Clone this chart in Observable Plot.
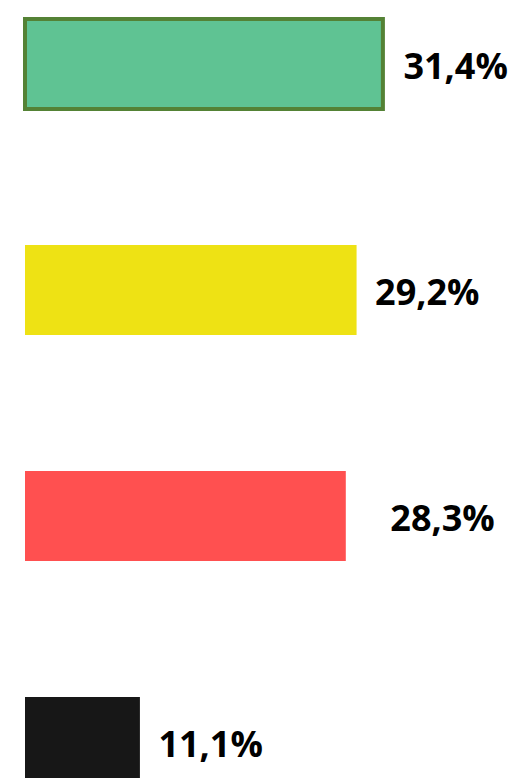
<!DOCTYPE html>
<html>
<head>
<meta charset="utf-8">
<script src="https://cdn.jsdelivr.net/npm/d3@7"></script>
<script src="https://cdn.jsdelivr.net/npm/@observablehq/plot@0.6"></script>
<style>
  html, body { margin: 0; padding: 0; background: #ffffff; overflow: hidden; }
  #chart svg { display: block; }
</style>
</head>
<body>
<div id="chart"></div>
<script>
const categories = ["A", "B", "C", "D"];
const values = [31.4, 29.2, 28.3, 11.1];
const fills = ["#5fc393", "#eee214", "#ff5050", "#171717"];
const axisMin = 1.5;

const data = categories.map((c, i) => ({cat: c, value: values[i], fill: fills[i]}));
const fmt = v => v.toFixed(1).replace(".", ",") + "%";

const textOpts = {
  x: "value", y: "cat", text: d => fmt(d.value),
  textAnchor: "start", fontSize: 36, fontWeight: "bold",
  fontFamily: "'Open Sans', sans-serif", fill: "#000", dy: 3
};

const chart = Plot.plot({
  width: 515,
  height: 778,
  margin: 0,
  style: {background: "transparent", overflow: "visible"},
  x: {domain: [axisMin, 41.5], range: [25, 25 + 40 * 11.97], axis: null},
  y: {domain: categories, range: [17.5, 788], paddingInner: 0.6, paddingOuter: 0, axis: null},
  marks: [
    Plot.barX(data.filter((d, i) => i > 0), {x1: axisMin, x2: "value", y: "cat", fill: "fill"}),
    Plot.barX(data.filter((d, i) => i === 0), {x1: axisMin, x2: "value", y: "cat", fill: "fill", stroke: "#548235", strokeWidth: 4}),
    Plot.text(data.filter((d, i) => i === 0), {...textOpts, dx: 20}),
    Plot.text(data.filter((d, i) => i === 1 || i === 3), {...textOpts, dx: 18}),
    Plot.text(data.filter((d, i) => i === 2), {...textOpts, dx: 44})
  ]
});
document.getElementById("chart").appendChild(chart);
</script>
</body>
</html>
